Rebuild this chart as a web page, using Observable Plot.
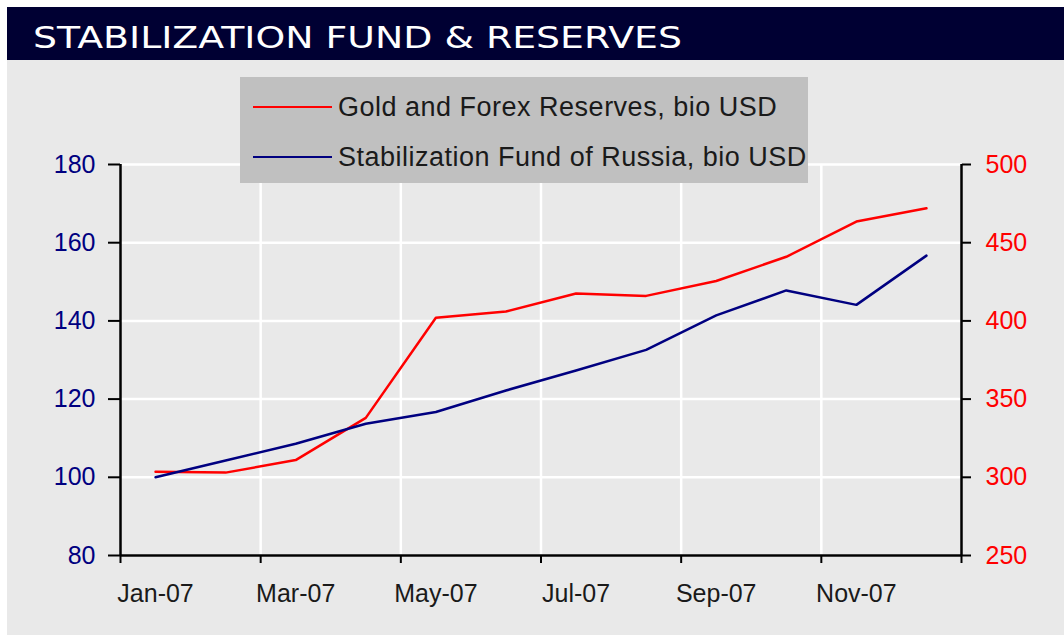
<!DOCTYPE html>
<html>
<head>
<meta charset="utf-8">
<script src="https://cdn.jsdelivr.net/npm/d3@7"></script>
<script src="https://cdn.jsdelivr.net/npm/@observablehq/plot@0.6"></script>
<style>
  body { margin: 0; background: #fff; width: 1064px; height: 635px; overflow: hidden; }
  #title { margin: 7px 0 0 7px; height: 53px; background: #000033; color: #fff;
           font-family: "DejaVu Sans", sans-serif; font-size: 31px; line-height: 53px;
           overflow: hidden; white-space: nowrap; }
  #title span { display: inline-block; margin-left: 26px; transform: scaleX(1.22);
                transform-origin: left center; padding-top: 4px; }
  #panel { position: relative; margin-left: 7px; width: 1057px; height: 575px; background: #e9e9e9; }
  #panel svg { position: absolute; left: 0; top: 0; }
  #legend { position: absolute; left: 233px; top: 17px; width: 568px; height: 106px; background: #c0c0c0;
            font-family: "Liberation Sans", Arial, sans-serif; font-size: 27px; color: #1a1a1a;
            letter-spacing: 0.5px; }
  .item { position: absolute; left: 13px; height: 30px; display: flex; align-items: center; white-space: nowrap; }
  .swatch { width: 79px; height: 2.5px; margin-right: 6px; }
</style>
</head>
<body>
<div id="title"><span>STABILIZATION FUND &amp; RESERVES</span></div>
<div id="panel">
  <div id="chart"></div>
  <div id="legend"></div>
</div>
<script>
// ---- data ----
const months = ["Jan-07","Feb-07","Mar-07","Apr-07","May-07","Jun-07","Jul-07","Aug-07","Sep-07","Oct-07","Nov-07","Dec-07"];
const reserves = [303.5, 303, 311, 338, 402, 406, 417.5, 416, 425.5, 441, 463.5, 472];   // right axis, bio USD
const fund = [100, 104.3, 108.6, 113.7, 116.7, 122.2, 127.3, 132.6, 141.4, 147.8, 144.1, 156.7]; // left axis, bio USD
const leftTicks = [80, 100, 120, 140, 160, 180];
const rightTicks = [250, 300, 350, 400, 450, 500];
const xTickLabels = ["Jan-07","Mar-07","May-07","Jul-07","Sep-07","Nov-07"];
const seriesNames = ["Gold and Forex Reserves, bio USD", "Stabilization Fund of Russia, bio USD"];
const seriesColors = ["#ff0000", "#000080"];

// ---- scales mapping for dual axis ----
const toLeft = v => 80 + (v - 250) * (100 / 250);
const fromLeft = y => 250 + (y - 80) * (250 / 100);

const rows = months.map((m, i) => ({pos: i + 0.5, month: m, fund: fund[i], reserves: reserves[i]}));
const boundaryTicks = d3.range(0, months.length + 1, 2);
const gridXPos = boundaryTicks.filter(d => d > 0 && d < months.length);
const labelPos = xTickLabels.map(l => months.indexOf(l) + 0.5);

const font = "Liberation Sans, Arial, sans-serif";

const chart = Plot.plot({
  width: 1057, height: 575,
  marginLeft: 113, marginRight: 103, marginTop: 104, marginBottom: 80,
  style: {background: "transparent", fontFamily: font, fontSize: "25px"},
  x: {type: "linear", domain: [0, months.length]},
  y: {domain: [80, 180]},
  marks: [
    Plot.gridY(leftTicks, {stroke: "#fff", strokeOpacity: 1, strokeWidth: 2.5}),
    Plot.gridX(gridXPos, {stroke: "#fff", strokeOpacity: 1, strokeWidth: 2.5}),
    Plot.axisY(leftTicks, {anchor: "left", tickSize: 12, tickPadding: 13, stroke: "#000", strokeWidth: 2,
      fill: "#000080", fontSize: 25, label: null}),
    Plot.axisY(rightTicks.map(toLeft), {anchor: "right", tickSize: 9, tickPadding: 15, stroke: "#000", strokeWidth: 2,
      fill: "#ff0000", fontSize: 25, tickFormat: d => String(Math.round(fromLeft(d))), label: null}),
    Plot.axisX(boundaryTicks, {anchor: "bottom", tickSize: 8, stroke: "#000", strokeWidth: 2,
      tickFormat: () => "", label: null}),
    Plot.axisX(labelPos, {anchor: "bottom", tickSize: 0, tickPadding: 29, fill: "#1a1a1a", fontSize: 25,
      tickFormat: d => months[Math.floor(d)], label: null}),
    Plot.ruleY([80], {stroke: "#000", strokeWidth: 2.5}),
    Plot.ruleX([0, months.length], {stroke: "#000", strokeWidth: 2.5}),
    Plot.lineY(rows, {x: "pos", y: d => toLeft(d.reserves), stroke: seriesColors[0], strokeWidth: 2.5}),
    Plot.lineY(rows, {x: "pos", y: "fund", stroke: seriesColors[1], strokeWidth: 2.5})
  ]
});
document.getElementById("chart").appendChild(chart);

// legend
const legend = document.getElementById("legend");
seriesNames.forEach((name, i) => {
  const item = document.createElement("div");
  item.className = "item";
  item.style.top = (15 + i * 50) + "px";
  const sw = document.createElement("div");
  sw.className = "swatch";
  sw.style.background = seriesColors[i];
  const tx = document.createElement("span");
  tx.textContent = name;
  item.appendChild(sw);
  item.appendChild(tx);
  legend.appendChild(item);
});
</script>
</body>
</html>
